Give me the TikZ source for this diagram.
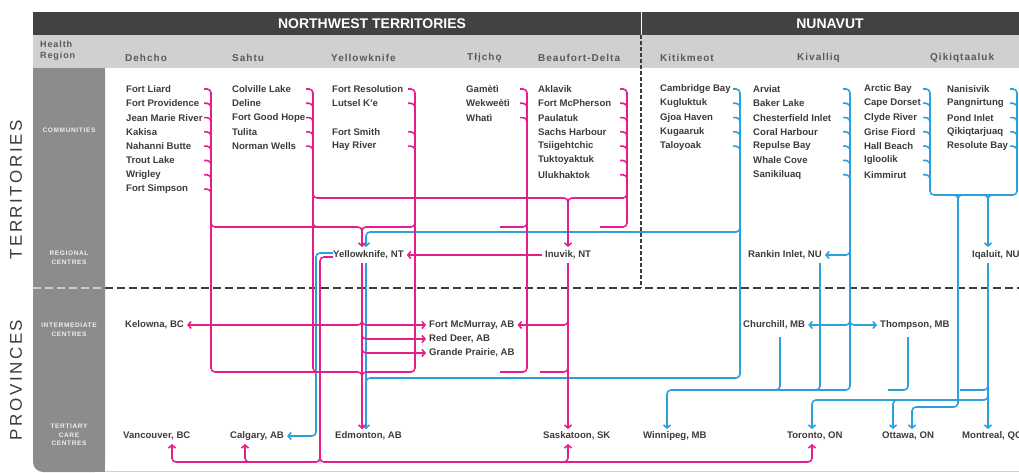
\documentclass[tikz,border=0pt]{standalone}
\usepackage{fontspec}
\setmainfont{Liberation Sans}
\newfontfamily\headfont[LetterSpace=10]{Liberation Sans}
\newfontfamily\sidefont[LetterSpace=15]{Liberation Sans}
\usetikzlibrary{arrows.meta}

\definecolor{nwt}{RGB}{230,30,140}
\definecolor{nu}{RGB}{45,160,220}
\definecolor{ink}{RGB}{60,60,60}
\definecolor{bar}{RGB}{66,66,66}
\definecolor{band}{RGB}{208,208,208}
\definecolor{side}{RGB}{140,140,140}

\tikzset{
  town/.style={anchor=west, inner sep=0pt, text=ink, font=\bfseries\fontsize{9.6}{11}\selectfont},
  region/.style={anchor=west, inner sep=0pt, text=ink!85, font=\headfont\bfseries\fontsize{10}{12}\selectfont},
  tag/.style={align=center, inner sep=0pt, text=white!85!side, font=\headfont\bfseries\fontsize{6.5}{8.5}\selectfont},
  route/.style={line width=1.6pt, rounded corners=4pt},
  nwtline/.style={route, draw=nwt},
  nuline/.style={route, draw=nu},
  >={Straight Barb[length=3pt,width=7pt]}
}

\begin{document}
\begin{tikzpicture}[x=1pt,y=-1pt]
  \useasboundingbox (0,0) rectangle (1019,473);
  % frame
  \fill[side, rounded corners=10pt] (33,60) rectangle (105,472);
  \fill[side] (33,60) rectangle (105,80);
  \fill[side] (90,60) rectangle (105,472);
  \fill[bar] (33,12) rectangle (1019,35);
  \fill[band] (33,35) rectangle (1019,68);
  \draw[band, line width=1pt] (105,471.5) -- (1019,471.5);
  \draw[white, line width=1pt] (641,12) -- (641,35);
  \draw[ink, line width=1.4pt, dash pattern=on 4pt off 2pt] (641,35) -- (641,288);
  \draw[ink, line width=1.6pt, dash pattern=on 8pt off 4pt] (105,288) -- (1019,288);
  \draw[white!55!side, line width=1.6pt, dash pattern=on 8pt off 4pt] (33,288) -- (105,288);

  \node[text=white, font=\bfseries\fontsize{14}{14}\selectfont] (nwthead) at (372,24) {NORTHWEST TERRITORIES};
  \node[text=white, font=\bfseries\fontsize{14}{14}\selectfont] (nuhead) at (830,24) {NUNAVUT};
  \node[rotate=90, text=ink, font=\sidefont\fontsize{17}{17}\selectfont] (terr) at (16,190) {TERRITORIES};
  \node[rotate=90, text=ink, font=\sidefont\fontsize{17}{17}\selectfont] (prov) at (16,380) {PROVINCES};

  % health regions
  \node[region, align=left, font=\headfont\bfseries\fontsize{9}{11}\selectfont] (hr) at (40,51) {Health\\Region};
  \node[region] (hdehcho) at (125,58) {Dehcho};
  \node[region] (hsahtu) at (232,58) {Sahtu};
  \node[region] (hyk) at (331,58) {Yellowknife};
  \node[region] (htlicho) at (467,58) {Tłįchǫ};
  \node[region] (hbeau) at (538,58) {Beaufort-Delta};
  \node[region] (hkit) at (660,58) {Kitikmeot};
  \node[region] (hkiv) at (797,58) {Kivalliq};
  \node[region] (hqik) at (930,58) {Qikiqtaaluk};

  \node[tag] (tcomm) at (69,130) {COMMUNITIES};
  \node[tag] (treg) at (69,258) {REGIONAL\\CENTRES};
  \node[tag] (tint) at (69,330) {INTERMEDIATE\\CENTRES};
  \node[tag] (tter) at (69,435) {TERTIARY\\CARE\\CENTRES};

  % communities
  \foreach \name [count=\i from 0] in {Fort Liard, Fort Providence, Jean Marie River, Kakisa,
      Nahanni Butte, Trout Lake, Wrigley, Fort Simpson}
    \node[town] (dc\i) at (126,89+14.3*\i) {\name};
  \foreach \name [count=\i from 0] in {Colville Lake, Deline, Fort Good Hope, Tulita, Norman Wells}
    \node[town] (sa\i) at (232,89+14.3*\i) {\name};
  \foreach \r/\name in {0/Fort Resolution, 1/Lutsel K'e, 3/Fort Smith, 4/Hay River}
    \node[town] (yk\r) at (332,89+14.3*\r) {\name};
  \foreach \name [count=\i from 0] in {Gamètì, Wekweètì, Whatì}
    \node[town] (tl\i) at (466,89+14.3*\i) {\name};
  \foreach \name [count=\i from 0] in {Aklavik, Fort McPherson, Paulatuk, Sachs Harbour,
      Tsiigehtchic, Tuktoyaktuk, Ulukhaktok}
    \node[town] (bd\i) at (538,89+14.3*\i) {\name};
  \foreach \name [count=\i from 0] in {Cambridge Bay, Kugluktuk, Gjoa Haven, Kugaaruk, Taloyoak}
    \node[town] (kt\i) at (660,89+14.3*\i) {\name};
  \foreach \name [count=\i from 0] in {Arviat, Baker Lake, Chesterfield Inlet, Coral Harbour,
      Repulse Bay, Whale Cove, Sanikiluaq}
    \node[town] (kv\i) at (753,89+14.3*\i) {\name};
  \foreach \name [count=\i from 0] in {Arctic Bay, Cape Dorset, Clyde River, Grise Fiord,
      Hall Beach, Igloolik, Kimmirut}
    \node[town] (qa\i) at (864,89+14.3*\i) {\name};
  \foreach \name [count=\i from 0] in {Nanisivik, Pangnirtung, Pond Inlet, Qikiqtarjuaq, Resolute Bay}
    \node[town] (qb\i) at (947,89+14.3*\i) {\name};

  % centres
  \node[town] (yknt) at (333,255) {Yellowknife, NT};
  \node[town] (inuvik) at (545,255) {Inuvik, NT};
  \node[town] (rankin) at (748,255) {Rankin Inlet, NU};
  \node[town] (iqaluit) at (972,255) {Iqaluit, NU};
  \node[town] (kelowna) at (125,325) {Kelowna, BC};
  \node[town] (fmm) at (429,325) {Fort McMurray, AB};
  \node[town] (reddeer) at (429,339) {Red Deer, AB};
  \node[town] (gp) at (429,353) {Grande Prairie, AB};
  \node[town] (churchill) at (743,325) {Churchill, MB};
  \node[town] (thompson) at (880,325) {Thompson, MB};
  \node[town] (vancouver) at (123,436) {Vancouver, BC};
  \node[town] (calgary) at (230,436) {Calgary, AB};
  \node[town] (edmonton) at (335,436) {Edmonton, AB};
  \node[town] (saskatoon) at (543,436) {Saskatoon, SK};
  \node[town] (winnipeg) at (643,436) {Winnipeg, MB};
  \node[town] (toronto) at (787,436) {Toronto, ON};
  \node[town] (ottawa) at (882,436) {Ottawa, ON};
  \node[town] (montreal) at (962,436) {Montreal, QC};

  % bracket ticks
  \foreach \x/\n in {211/7, 313/4, 527/2, 627/6}
    \foreach \i in {1,...,\n}
      \draw[nwtline] (\x-7,89+14.3*\i) -- (\x,89+14.3*\i) -- (\x,95+14.3*\i);
  \foreach \i in {1,3,4}
    \draw[nwtline] (408,89+14.3*\i) -- (415,89+14.3*\i) -- (415,95+14.3*\i);
  \foreach \x/\n in {740/4, 850/6, 930/6, 1017/4}
    \foreach \i in {1,...,\n}
      \draw[nuline] (\x-7,89+14.3*\i) -- (\x,89+14.3*\i) -- (\x,95+14.3*\i);

  % Nunavut routes
  \draw[nuline,->] (733,89) -- (740,89) -- (740,378) -- (366,378) -- (366,429);
  \draw[nuline,->] (740,218) -- (740,232) -- (366,232) -- (366,247);
  \draw[nuline] (366,263) -- (366,429);
  \draw[nuline,->,shorten >=3pt] ([yshift=2pt]yknt.west) -| (316,436) -- (calgary.east);
  \draw[nuline,->] (843,89) -- (850,89) -- (850,390) -- (667,390) -- (667,429);
  \draw[nuline,->,shorten >=3pt] (850,243) -- (850,255) -- (rankin.east);
  \draw[nuline,->,shorten >=3pt] (850,313) -- (850,325) -- (churchill.east);
  \draw[nuline,->,shorten >=3pt] (850,313) -- (850,325) -- (thompson.west);
  \draw[nuline] (820,263) -- (820,390) -- (800,390);
  \draw[nuline] (780,337) -- (780,390) -- (760,390);
  \draw[nuline] (908,337) -- (908,390) -- (888,390);
  \draw[nuline] (923,89) -- (930,89) -- (930,195) -- (1017,195) -- (1017,89) -- (1010,89);
  \draw[nuline,->] (948,195) -- (958,195) -- (958,407) -- (912,407) -- (912,429);
  \draw[nuline] (968,195) -- (958,195) -- (958,205);
  \draw[nuline,->] (978,195) -- (988,195) -- (988,247);
  \draw[nuline] (998,195) -- (988,195) -- (988,205);
  \draw[nuline,->] (988,263) -- (988,429);
  \draw[nuline] (988,378) -- (988,390) -- (960,390);
  \draw[nuline,->] (988,388) -- (988,400) -- (812,400) -- (812,429);
  \draw[nuline,->] (905,400) -- (893,400) -- (893,429);

  % Northwest Territories routes
  \draw[nwtline,->] (204,89) -- (211,89) -- (211,372) -- (362,372) -- (362,429);
  \draw[nwtline,->] (211,215) -- (211,227) -- (362,227) -- (362,247);
  \draw[nwtline] (306,89) -- (313,89) -- (313,372) -- (330,372);
  \draw[nwtline,->] (313,186) -- (313,198) -- (568,198) -- (568,247);
  \draw[nwtline] (313,215) -- (313,227) -- (330,227);
  \draw[nwtline] (408,89) -- (415,89) -- (415,372) -- (362,372) -- (362,380);
  \draw[nwtline] (415,215) -- (415,227) -- (362,227) -- (362,235);
  \draw[nwtline] (520,89) -- (527,89) -- (527,372) -- (500,372);
  \draw[nwtline] (527,215) -- (527,227) -- (500,227);
  \draw[nwtline] (620,89) -- (627,89) -- (627,227) -- (600,227);
  \draw[nwtline] (627,186) -- (627,198) -- (568,198) -- (568,210);
  \draw[nwtline,->,shorten <=3pt,shorten >=3pt] (inuvik.west) -- (yknt.east);
  \draw[nwtline,->] (568,263) -- (568,429);
  \draw[nwtline,->,shorten >=3pt] (568,313) -- (568,325) -- (fmm.east);
  \draw[nwtline] (568,360) -- (568,372) -- (540,372);
  \draw[nwtline] (362,263) -- (362,429);
  \draw[nwtline,->,shorten >=3pt] (362,313) -- (362,325) -- (kelowna.east);
  \draw[nwtline,->,shorten >=3pt] (362,313) -- (362,325) -- (fmm.west);
  \draw[nwtline,->,shorten >=3pt] (362,327) -- (362,339) -- (reddeer.west);
  \draw[nwtline,->,shorten >=3pt] (362,341) -- (362,353) -- (gp.west);
  \draw[nwtline,->] ([yshift=-2pt]yknt.west) -| (320,462) -- (172,462) -- (172,444);
  \draw[nwtline,->] (320,450) -- (320,462) -- (812,462) -- (812,444);
  \draw[nwtline,->] (257,462) -- (245,462) -- (245,444);
  \draw[nwtline,->] (556,462) -- (568,462) -- (568,444);
\end{tikzpicture}
\end{document}
